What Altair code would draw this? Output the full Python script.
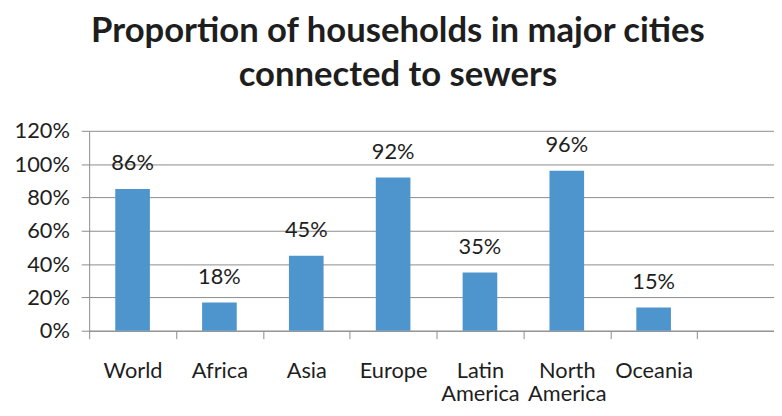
import altair as alt
import pandas as pd

categories = ["World", "Africa", "Asia", "Europe", "Latin\nAmerica", "North\nAmerica", "Oceania"]
bar_values = [0.85, 0.17, 0.45, 0.92, 0.35, 0.96, 0.14]
label_text = ["86%", "18%", "45%", "92%", "35%", "96%", "15%"]
y_ticks = [0, 0.2, 0.4, 0.6, 0.8, 1.0, 1.2]

df = pd.DataFrame({"cat": categories, "val": bar_values, "lab": label_text})
domain = categories + [" "]

FONT = "Lato"
GRID = "#8c8c8c"
TXT = "#1e1e1e"

xscale = alt.Scale(domain=domain, range=[0, 702], paddingInner=0, paddingOuter=0)
x = alt.X("cat:N", scale=xscale,
          axis=alt.Axis(title=None, labelAngle=0, tickBand="extent", labelExpr="split(datum.label, '\\n')",
                        labelFont=FONT, labelFontSize=22, labelColor=TXT, labelPadding=22,
                        labelLineHeight=24, tickSize=8, tickColor=GRID, domainColor=GRID,
                        labelBaseline="top", labelOverlap=False))
y = alt.Y("val:Q", scale=alt.Scale(domain=[0, 1.2], nice=False),
          axis=alt.Axis(title=None, values=y_ticks, format=".0%", labelFont=FONT, labelFontSize=22,
                        labelColor=TXT, labelPadding=12, tickSize=8, tickColor=GRID, domainColor=GRID,
                        gridColor=GRID, gridOpacity=1, labelOverlap=False, labelBound=False,
                        labelFlush=False))

bars = alt.Chart(df).mark_bar(size=35, color="#4F95CD").encode(x=x, y=y)
labels = alt.Chart(df).mark_text(font=FONT, fontSize=22, color=TXT, baseline="middle", dy=-26).encode(
    x=x, y=y, text="lab:N")

chart = alt.layer(bars, labels).properties(
    width=692, height=202,
    autosize=alt.AutoSizeParams(type="none"),
    padding={"left": 82, "top": 122, "right": 0, "bottom": 76},
    title=alt.TitleParams(["Proportion of households in major cities", "connected to sewers"],
                          font=FONT, fontSize=35, fontWeight="bold", color=TXT, anchor="middle",
                          frame="group", dx=-34, offset=27, lineHeight=45),
).configure_view(stroke=None)

chart.save("out.html", embed_options={"renderer": "svg", "actions": False})
